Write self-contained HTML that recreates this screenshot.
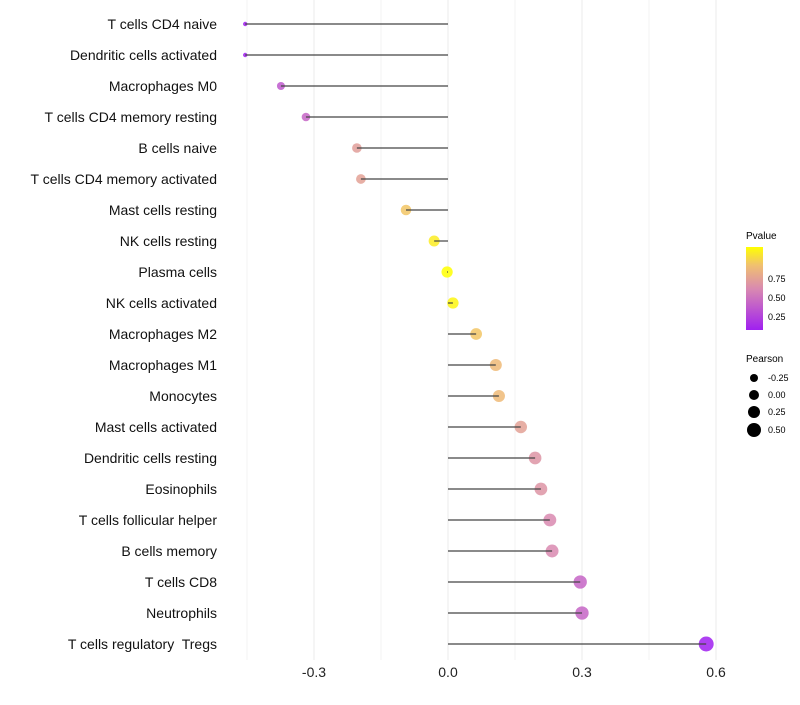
<!DOCTYPE html>
<html><head><meta charset="utf-8"><style>
body{margin:0;background:#fff;font-family:"Liberation Sans",sans-serif;}
text{white-space:pre;}
</style></head><body>
<svg id="chart" width="800" height="700" xmlns="http://www.w3.org/2000/svg" font-family="Liberation Sans, sans-serif">
<defs><linearGradient id="pg" x1="0" y1="1" x2="0" y2="0">
<stop offset="0" stop-color="#a020f0"/><stop offset="0.5" stop-color="#d98ab0"/><stop offset="0.78" stop-color="#f0c070"/><stop offset="1" stop-color="#ffff00"/></linearGradient></defs>
<g id="grid"></g>
<g id="marks"></g>
<g id="labels"></g>
<g id="xticks"></g>
<g>
<text x="746" y="239" font-size="10">Pvalue</text>
<rect x="746" y="247" width="17" height="83" fill="url(#pg)"/>
<text x="768" y="282" font-size="9">0.75</text>
<text x="768" y="301" font-size="9">0.50</text>
<text x="768" y="320" font-size="9">0.25</text>
</g>
<g>
<text x="746" y="362" font-size="10">Pearson</text>
<circle cx="754" cy="378" r="4" fill="#000"/><text x="768" y="381" font-size="9">-0.25</text>
<circle cx="754" cy="395" r="5" fill="#000"/><text x="768" y="398" font-size="9">0.00</text>
<circle cx="754" cy="412" r="6" fill="#000"/><text x="768" y="415" font-size="9">0.25</text>
<circle cx="754" cy="430" r="7" fill="#000"/><text x="768" y="433" font-size="9">0.50</text>
</g>
</svg>
<script>
const categories=["T cells CD4 naive","Dendritic cells activated","Macrophages M0","T cells CD4 memory resting","B cells naive","T cells CD4 memory activated","Mast cells resting","NK cells resting","Plasma cells","NK cells activated","Macrophages M2","Macrophages M1","Monocytes","Mast cells activated","Dendritic cells resting","Eosinophils","T cells follicular helper","B cells memory","T cells CD8","Neutrophils","T cells regulatory  Tregs"];
const pearson=[-0.454,-0.454,-0.374,-0.318,-0.204,-0.195,-0.094,-0.031,-0.002,0.011,0.063,0.107,0.114,0.163,0.195,0.208,0.228,0.233,0.296,0.300,0.578];
const pvalues=[0.07,0.07,0.3,0.35,0.6,0.62,0.8,0.92,0.98,0.95,0.8,0.75,0.75,0.62,0.55,0.55,0.5,0.5,0.35,0.35,0.07];
const xTicks=[-0.3,0.0,0.3,0.6];
const xTickLabels=["-0.3","0.0","0.3","0.6"];
const gridMajor=[-0.3,0,0.3,0.6];
const gridMinor=[-0.45,-0.15,0.15,0.45];
const NS="http://www.w3.org/2000/svg";
const xs=v=>448+v*446.7;
const ys=i=>24+i*31;
const rs=v=>v<-0.42?2.2:Math.sqrt(Math.max(4,31.7+42*v));
function lerp(a,b,t){return a.map((x,i)=>Math.round(x+(b[i]-x)*t));}
function col(p){const stops=[[0.07,[160,32,240]],[0.5,[217,138,176]],[0.78,[240,192,112]],[0.98,[255,255,0]]];
 if(p<=stops[0][0])return 'rgb('+stops[0][1]+')';
 for(let i=1;i<stops.length;i++){if(p<=stops[i][0]){const t=(p-stops[i-1][0])/(stops[i][0]-stops[i-1][0]);return 'rgb('+lerp(stops[i-1][1],stops[i][1],t)+')';}}
 return 'rgb(255,255,0)';}
function mk(tag,attrs,parent){const e=document.createElementNS(NS,tag);for(const k in attrs)e.setAttribute(k,attrs[k]);document.getElementById(parent).appendChild(e);return e;}
gridMinor.forEach(g=>{const l=mk('line',{x1:xs(g),x2:xs(g),y1:0,y2:660,stroke:'#f3f3f3','stroke-width':1},'grid');

});
gridMajor.forEach(g=>{const l=mk('line',{x1:xs(g),x2:xs(g),y1:0,y2:660,stroke:'#ebebeb','stroke-width':1},'grid');

});
categories.forEach((c,i)=>{
 const t=mk('text',{x:217,y:ys(i)+5,'text-anchor':'end','font-size':14,fill:'#111'},'labels');t.textContent=c;
 
 
 const ci=mk('circle',{cx:xs(pearson[i]),cy:ys(i),r:rs(pearson[i]),fill:col(pvalues[i]),'fill-opacity':0.85},'marks');
 
 
 const l=mk('line',{x1:xs(0),x2:xs(pearson[i]),y1:ys(i),y2:ys(i),stroke:'#444','stroke-width':1.2},'marks');
 
 
});
xTicks.forEach((v,i)=>{const t=mk('text',{x:xs(v),y:677,'text-anchor':'middle','font-size':14,fill:'#222'},'xticks');t.textContent=xTickLabels[i];
 
 });
</script>
</body></html>
